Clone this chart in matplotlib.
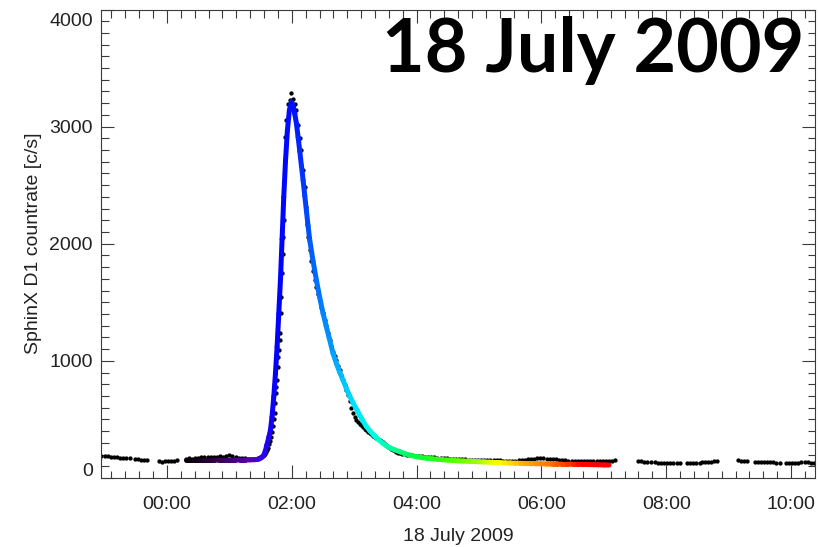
import numpy as np
import matplotlib as mpl
mpl.use('Agg')
import matplotlib.pyplot as plt
from matplotlib.collections import LineCollection
from matplotlib.colors import LinearSegmentedColormap
from matplotlib.ticker import MultipleLocator, FuncFormatter

# SphinX D1 countrate, minutes after 18 Jul 2009 00:00 UT
# quiet stretches: (first minute, counts every 3 min)
CADENCE = 3
quiet_segments = [
    (-63, [192, 186, 184, 181, 178, 176, 173, 171, 170, 168]),
    (-31, [160, 158, 156, 154, 153]),
    (-8, [143, 140, 142, 145, 144, 146, 150]),
    (18, [165, 168, 166, 170, 172, 176, 180, 182, 178, 183, 180, 185,
          182, 188, 195, 186, 178, 175, 170, 168, 165, 162, 160, 163]),
    (251, [182, 180, 178, 175, 172, 170, 168, 166, 164, 162, 160, 159,
           158, 157, 156, 155, 155, 154, 153, 152, 152, 151, 150, 150,
           149, 148, 148, 147, 148, 150, 152, 156, 160, 164, 166, 167,
           168, 167, 165, 163, 161, 158, 155, 152, 150, 148, 147, 146,
           146, 145, 144, 143, 142, 141, 141, 142, 143, 144, 146, 148, 150]),
    (453, [145, 142, 140, 138, 137]),
    (469, [133, 131, 130, 130, 129, 130, 129, 128, 128]),
    (500, [125, 126, 127, 128, 130]),
    (514, [133, 136, 138, 140, 143, 147]),
    (549, [150, 148, 146, 145]),
    (565, [140, 139, 138, 137, 136, 135, 133, 130, 128]),
    (595, [130, 131, 130, 131, 132]),
    (610, [133, 138, 133, 131, 130]),
]

# flare itself, read dot by dot
flare_min = [88, 89, 90, 91, 92, 93, 94, 95, 96, 97, 98, 99, 100, 101, 102, 103,
             103.7, 104.2, 104.6, 105.1, 105.6, 106.4, 107.1, 107.6, 108.3, 108.9,
             109.5, 110.1, 110.7, 111.1, 111.6, 112.1, 113.3, 114.9, 116.5, 118.1,
             119.7, 121.0, 122.9, 124.5, 126.2, 127.8, 129.3, 130.9, 132.5, 134.1,
             134.7, 135.7, 137.3, 138.9, 140.5, 142.1, 143.7, 145.3, 146.9, 148.5,
             150.1, 151.7, 153.3, 154.9, 156.5, 158.1, 159.7, 161.3, 162.9, 164.5,
             166.1, 167.7, 169.3, 170.9, 172.5, 174.1, 175.7, 177.3, 178.9, 180.5,
             182.1, 183.7, 185.3, 186.9, 188.5, 190.1, 191.7, 193.3, 194.9, 196.5,
             198.1, 199.7, 201.3, 202.9, 204.5, 206.1, 207.7, 209.3, 210.9, 212.5,
             214.1, 215.7, 217.3, 218.9, 220.5, 222.1, 223.7, 226, 228.5, 231,
             233.3, 236, 239, 242, 245, 248]
flare_cnt = [172, 176, 180, 185, 190, 197, 205, 218, 236, 260, 288, 320, 352, 390, 440, 500,
             552, 637, 722, 779, 836, 949, 1035, 1092, 1177, 1234,
             1405, 1546, 1746, 1916, 2058, 2200, 2911, 3053, 3196, 3224,
             3290, 3240, 3196, 3139, 3010, 2900, 2797, 2627, 2484, 2314,
             2172, 2058, 1950, 1850, 1770, 1689, 1630, 1575, 1515, 1461,
             1405, 1348, 1300, 1234, 1180, 1130, 1080, 1040, 1006, 960,
             921, 878, 836, 795, 751, 705, 660, 600, 552, 522,
             495, 478, 462, 450, 438, 420, 408, 395, 381, 372,
             362, 352, 342, 333, 324, 315, 306, 292, 280, 266,
             253, 245, 238, 230, 222, 216, 210, 205, 202, 199,
             196, 193, 189, 186, 184, 182]

# model light curve
fit_min = [18, 25, 30, 35, 40, 45, 50, 55, 60, 65, 70, 75, 80, 84, 87, 89, 91, 93, 94.5, 96,
           98, 99.5, 101, 102.7, 104.3, 105.9, 107.5, 109.1, 110.7, 112.3, 114, 115.8,
           117.7, 119.7, 121.3, 122.9, 124.5, 126.1, 127.7, 129.3, 130.9, 132.5, 134.1,
           135.7, 137.3, 140.5, 143.7, 146.9, 150.1, 153, 156, 159.7, 163, 166, 169.3,
           172.5, 175.7, 179, 183, 187, 191.7, 195, 199, 203, 207.7, 211, 215, 219, 223.7,
           228, 233, 239.7, 245, 250, 255, 260, 265, 270, 275, 280, 285, 290, 295, 300,
           305, 310, 315, 320, 325, 330, 335, 340, 345, 350, 355, 360, 365, 370, 375,
           380, 385, 390, 395, 400, 405, 410, 415, 420, 425]
fit_cnt = [152, 152, 152, 152, 152, 152, 153, 153, 153, 153, 154, 154, 155, 156, 159, 164,
           174, 193, 228, 280, 350, 409, 520, 693, 890, 1120, 1400, 1689, 2040, 2399, 2710,
           2968, 3140, 3210, 3180, 3110, 3025, 2910, 2790, 2665, 2542, 2410, 2280, 2150,
           2030, 1850, 1689, 1540, 1405, 1300, 1195, 1063, 975, 905, 836, 765, 700, 640,
           575, 510, 440, 405, 365, 330, 296, 275, 255, 240, 225, 210, 196, 182, 174, 168,
           164, 160, 156, 153, 150, 147, 145, 143, 141, 139, 137, 135, 133, 131, 129, 128,
           126, 125, 124, 123, 122, 121, 120, 119, 119, 118, 118, 117, 117, 116, 115, 114,
           113, 112, 111]

fit_colors = [(18, '#000000'), (50, '#38004e'), (80, '#5a00a8'), (92, '#3000f0'),
              (105, '#0000ff'), (122, '#0010ff'), (140, '#0060ff'), (160, '#00a0ff'),
              (180, '#00e0ff'), (200, '#00ffe0'), (220, '#00ff90'), (240, '#00ff40'),
              (270, '#40ff00'), (300, '#a0ff00'), (320, '#ffff00'), (345, '#ffb000'),
              (365, '#ff8000'), (385, '#ff4000'), (400, '#ff0000'), (425, '#ff0000')]

# collect observations
obs_min = []
obs_cnt = []
for start, vals in quiet_segments:
    for i, v in enumerate(vals):
        obs_min.append(start + CADENCE * i)
        obs_cnt.append(v)
obs_min += flare_min
obs_cnt += flare_cnt
obs_h = np.array(obs_min) / 60.0
obs_cnt = np.array(obs_cnt)

fig = plt.figure(figsize=(8.19, 5.47), dpi=100)
ax = fig.add_axes([101/819, 1 - 478/547, 714/819, 468.5/547])

ax.plot(obs_h, obs_cnt, 'o', color='black', markersize=3.1, markeredgewidth=0, zorder=2)

# rainbow coloured model curve
t0, t1 = fit_min[0], fit_min[-1]
cmap = LinearSegmentedColormap.from_list(
    'idlrainbow', [((t - t0) / (t1 - t0), c) for t, c in fit_colors])
fh = np.array(fit_min) / 60.0
fc = np.array(fit_cnt)
pts = np.column_stack([fh, fc]).reshape(-1, 1, 2)
segs = np.concatenate([pts[:-1], pts[1:]], axis=1)
mids = (np.array(fit_min[:-1]) + np.array(fit_min[1:])) / 2
lc = LineCollection(segs, colors=cmap((mids - t0) / (t1 - t0)), linewidths=3.6,
                    capstyle='round', joinstyle='round', zorder=3)
ax.add_collection(lc)

ax.set_xlim(-63.4 / 60, 10.384)
ax.set_ylim(0, 4000)

ax.xaxis.set_major_locator(MultipleLocator(2))
ax.xaxis.set_minor_locator(MultipleLocator(2 / 9))
ax.xaxis.set_major_formatter(FuncFormatter(lambda h, p: '%02d:00' % (int(round(h)) % 24)))
ax.yaxis.set_major_locator(MultipleLocator(1000))
ax.yaxis.set_minor_locator(MultipleLocator(100))
ax.yaxis.set_major_formatter(FuncFormatter(lambda v, p: '' if v in (0, 4000) else '%d' % v))

axcol = '#3a3a3a'
for s in ax.spines.values():
    s.set_color(axcol)
    s.set_linewidth(0.8)
ax.tick_params(which='both', direction='in', top=True, right=True, color=axcol, width=0.8,
               labelsize=14, labelcolor='#222222')
ax.tick_params(which='major', length=9.7)
ax.tick_params(which='minor', length=5.4)
ax.tick_params(axis='x', pad=13)
ax.tick_params(axis='y', pad=6)
for lab in ax.get_xticklabels() + ax.get_yticklabels():
    lab.set_family('Liberation Sans')

# end labels sit inside the axis range
for val, dy in [(0, 7), (4000, -12)]:
    ax.annotate('%d' % val, xy=(0, val), xycoords=('axes fraction', 'data'),
                xytext=(-6, dy * 0.72), textcoords='offset points',
                ha='right', va='center', fontsize=14, color='#222222',
                family='Liberation Sans')

ax.set_xlabel('18 July 2009', fontsize=14, family='Liberation Sans', color='#222222', labelpad=11)
ax.set_ylabel('SphinX D1 countrate [c/s]', fontsize=14, family='Liberation Sans',
              color='#222222', labelpad=5)

fig.text(804/819, 1 - 72/547, '18 July 2009', ha='right', va='baseline',
         fontsize=53, fontweight='bold', family='Lato', color='black')

plt.savefig('out.png', dpi=100)
plt.close()
